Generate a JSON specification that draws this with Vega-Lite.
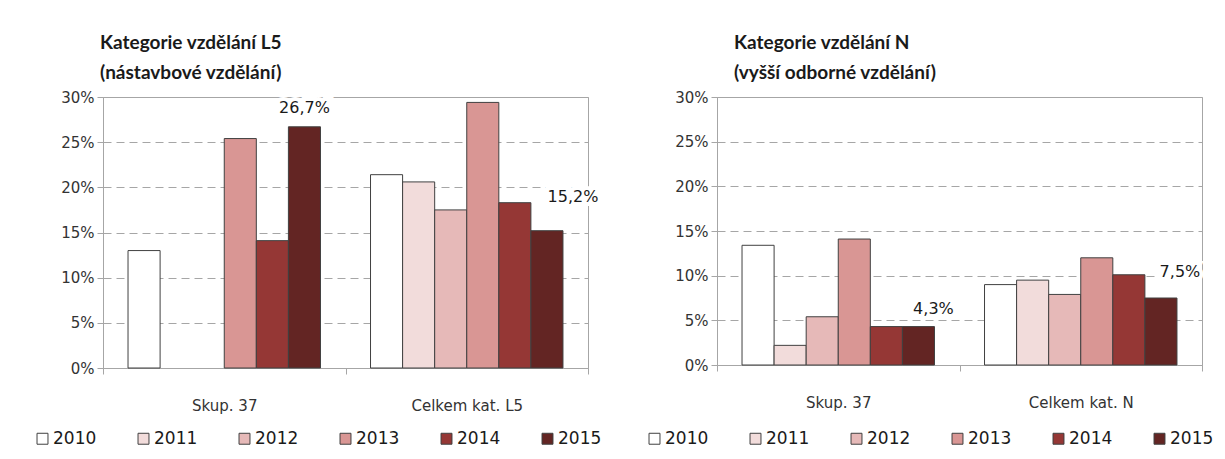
{
  "$schema": "https://vega.github.io/schema/vega-lite/v6.json",
  "background": "white",
  "padding": {"left": 33, "top": 33, "right": 5, "bottom": 5},
  "datasets": {
    "L5": [
      {"kat": "Skup. 37", "rok": "2010", "podil": 0.130},
      {"kat": "Skup. 37", "rok": "2013", "podil": 0.254},
      {"kat": "Skup. 37", "rok": "2014", "podil": 0.141},
      {"kat": "Skup. 37", "rok": "2015", "podil": 0.267},
      {"kat": "Celkem kat. L5", "rok": "2010", "podil": 0.214},
      {"kat": "Celkem kat. L5", "rok": "2011", "podil": 0.206},
      {"kat": "Celkem kat. L5", "rok": "2012", "podil": 0.175},
      {"kat": "Celkem kat. L5", "rok": "2013", "podil": 0.294},
      {"kat": "Celkem kat. L5", "rok": "2014", "podil": 0.183},
      {"kat": "Celkem kat. L5", "rok": "2015", "podil": 0.152}
    ],
    "N": [
      {"kat": "Skup. 37", "rok": "2010", "podil": 0.134},
      {"kat": "Skup. 37", "rok": "2011", "podil": 0.022},
      {"kat": "Skup. 37", "rok": "2012", "podil": 0.054},
      {"kat": "Skup. 37", "rok": "2013", "podil": 0.141},
      {"kat": "Skup. 37", "rok": "2014", "podil": 0.043},
      {"kat": "Skup. 37", "rok": "2015", "podil": 0.043},
      {"kat": "Celkem kat. N", "rok": "2010", "podil": 0.090},
      {"kat": "Celkem kat. N", "rok": "2011", "podil": 0.095},
      {"kat": "Celkem kat. N", "rok": "2012", "podil": 0.079},
      {"kat": "Celkem kat. N", "rok": "2013", "podil": 0.120},
      {"kat": "Celkem kat. N", "rok": "2014", "podil": 0.101},
      {"kat": "Celkem kat. N", "rok": "2015", "podil": 0.075}
    ]
  },
  "config": {
    "locale": {"number": {"decimal": ",", "thousands": " ", "grouping": [3], "currency": ["", " Kč"]}},
    "view": {"stroke": "#A6A6A6", "strokeWidth": 1},
    "axis": {"labelFont": "DejaVu Sans", "labelFontSize": 15, "labelColor": "#333333", "domainColor": "#A6A6A6", "tickColor": "#A6A6A6", "title": null},
    "title": {"font": "Lato", "fontSize": 19, "fontWeight": "bold", "color": "#1a1a1a", "anchor": "start", "frame": "group", "lineHeight": 30, "offset": 7}
  },
  "hconcat": [
    {
      "width": 485, "height": 271,
      "title": {"text": ["Kategorie vzdělání  L5", "(nástavbové  vzdělání)"], "dx": -3},
      "data": {"name": "L5"},
      "encoding": {
        "x": {"field": "kat", "type": "nominal", "sort": null, "scale": {"paddingInner": 0, "paddingOuter": 0},
              "axis": {"labelAngle": 0, "tickBand": "extent", "tickSize": 6, "labelPadding": 24, "grid": false}},
        "xOffset": {"field": "rok", "type": "nominal", "scale": {"domain": ["2010","2011","2012","2013","2014","2015"], "paddingInner": 0, "paddingOuter": 0.78}},
        "y": {"field": "podil", "type": "quantitative", "scale": {"domain": [0, 0.3], "nice": false},
              "axis": {"format": ".0%", "values": [0,0.05,0.1,0.15,0.2,0.25,0.3], "tickSize": 6, "labelPadding": 3, "gridDash": [8,5], "gridColor": "#A6A6A6"}}
      },
      "layer": [
        {
          "mark": {"type": "bar", "stroke": "#404040", "strokeWidth": 1},
          "encoding": {
            "color": {"field": "rok", "type": "nominal",
              "scale": {"domain": ["2010","2011","2012","2013","2014","2015"], "range": ["#FFFFFF","#F2DCDB","#E6B9B8","#D99694","#953735","#632523"]},
              "legend": {"orient": "none", "legendX": -69, "legendY": 333, "direction": "horizontal", "title": null, "symbolType": "square", "symbolSize": 120, "symbolStrokeColor": "#404040", "symbolStrokeWidth": 1, "labelFont": "DejaVu Sans", "labelFontSize": 17, "labelColor": "#1a1a1a", "columnPadding": 38, "labelOffset": 2}}
          }
        },
        {
          "transform": [{"filter": {"field": "rok", "equal": "2015"}}, {"filter": {"field": "kat", "equal": "Skup. 37"}}],
          "mark": {"type": "text", "font": "DejaVu Sans", "fontSize": 16, "stroke": "white", "strokeWidth": 8, "fill": "white", "dy": -19},
          "encoding": {"text": {"field": "podil", "type": "quantitative", "format": ".1%"}}
        },
        {
          "transform": [{"filter": {"field": "rok", "equal": "2015"}}, {"filter": {"field": "kat", "equal": "Skup. 37"}}],
          "mark": {"type": "text", "font": "DejaVu Sans", "fontSize": 16, "color": "#1a1a1a", "dy": -19},
          "encoding": {"text": {"field": "podil", "type": "quantitative", "format": ".1%"}}
        },
        {
          "transform": [{"filter": {"field": "rok", "equal": "2015"}}, {"filter": {"field": "kat", "equal": "Celkem kat. L5"}}],
          "mark": {"type": "text", "font": "DejaVu Sans", "fontSize": 16, "stroke": "white", "strokeWidth": 8, "fill": "white", "dx": 26, "dy": -34},
          "encoding": {"text": {"field": "podil", "type": "quantitative", "format": ".1%"}}
        },
        {
          "transform": [{"filter": {"field": "rok", "equal": "2015"}}, {"filter": {"field": "kat", "equal": "Celkem kat. L5"}}],
          "mark": {"type": "text", "font": "DejaVu Sans", "fontSize": 16, "color": "#1a1a1a", "dx": 26, "dy": -34},
          "encoding": {"text": {"field": "podil", "type": "quantitative", "format": ".1%"}}
        }
      ]
    },
    {
      "width": 485, "height": 268,
      "title": {"text": ["Kategorie vzdělání  N", "(vyšší  odborné vzdělání)"], "dx": 17},
      "data": {"name": "N"},
      "encoding": {
        "x": {"field": "kat", "type": "nominal", "sort": null, "scale": {"paddingInner": 0, "paddingOuter": 0},
              "axis": {"labelAngle": 0, "tickBand": "extent", "tickSize": 6, "labelPadding": 24, "grid": false}},
        "xOffset": {"field": "rok", "type": "nominal", "scale": {"domain": ["2010","2011","2012","2013","2014","2015"], "paddingInner": 0, "paddingOuter": 0.78}},
        "y": {"field": "podil", "type": "quantitative", "scale": {"domain": [0, 0.3], "nice": false},
              "axis": {"format": ".0%", "values": [0,0.05,0.1,0.15,0.2,0.25,0.3], "tickSize": 6, "labelPadding": 3, "gridDash": [8,5], "gridColor": "#A6A6A6"}}
      },
      "layer": [
        {
          "mark": {"type": "bar", "stroke": "#404040", "strokeWidth": 1},
          "encoding": {
            "color": {"field": "rok", "type": "nominal",
              "scale": {"domain": ["2010","2011","2012","2013","2014","2015"], "range": ["#FFFFFF","#F2DCDB","#E6B9B8","#D99694","#953735","#632523"]},
              "legend": {"orient": "none", "legendX": -71, "legendY": 333, "direction": "horizontal", "title": null, "symbolType": "square", "symbolSize": 120, "symbolStrokeColor": "#404040", "symbolStrokeWidth": 1, "labelFont": "DejaVu Sans", "labelFontSize": 17, "labelColor": "#1a1a1a", "columnPadding": 38, "labelOffset": 2}}
          }
        },
        {
          "transform": [{"filter": {"field": "rok", "equal": "2015"}}, {"filter": {"field": "kat", "equal": "Skup. 37"}}],
          "mark": {"type": "text", "font": "DejaVu Sans", "fontSize": 16, "stroke": "white", "strokeWidth": 8, "fill": "white", "dx": 15, "dy": -18},
          "encoding": {"text": {"field": "podil", "type": "quantitative", "format": ".1%"}}
        },
        {
          "transform": [{"filter": {"field": "rok", "equal": "2015"}}, {"filter": {"field": "kat", "equal": "Skup. 37"}}],
          "mark": {"type": "text", "font": "DejaVu Sans", "fontSize": 16, "color": "#1a1a1a", "dx": 15, "dy": -18},
          "encoding": {"text": {"field": "podil", "type": "quantitative", "format": ".1%"}}
        },
        {
          "transform": [{"filter": {"field": "rok", "equal": "2015"}}, {"filter": {"field": "kat", "equal": "Celkem kat. N"}}],
          "mark": {"type": "text", "font": "DejaVu Sans", "fontSize": 16, "stroke": "white", "strokeWidth": 8, "fill": "white", "dx": 19, "dy": -26},
          "encoding": {"text": {"field": "podil", "type": "quantitative", "format": ".1%"}}
        },
        {
          "transform": [{"filter": {"field": "rok", "equal": "2015"}}, {"filter": {"field": "kat", "equal": "Celkem kat. N"}}],
          "mark": {"type": "text", "font": "DejaVu Sans", "fontSize": 16, "color": "#1a1a1a", "dx": 19, "dy": -26},
          "encoding": {"text": {"field": "podil", "type": "quantitative", "format": ".1%"}}
        }
      ]
    }
  ],
  "spacing": 129,
  "bounds": "flush",
  "resolve": {"legend": {"color": "independent"}, "scale": {"color": "independent"}}
}
